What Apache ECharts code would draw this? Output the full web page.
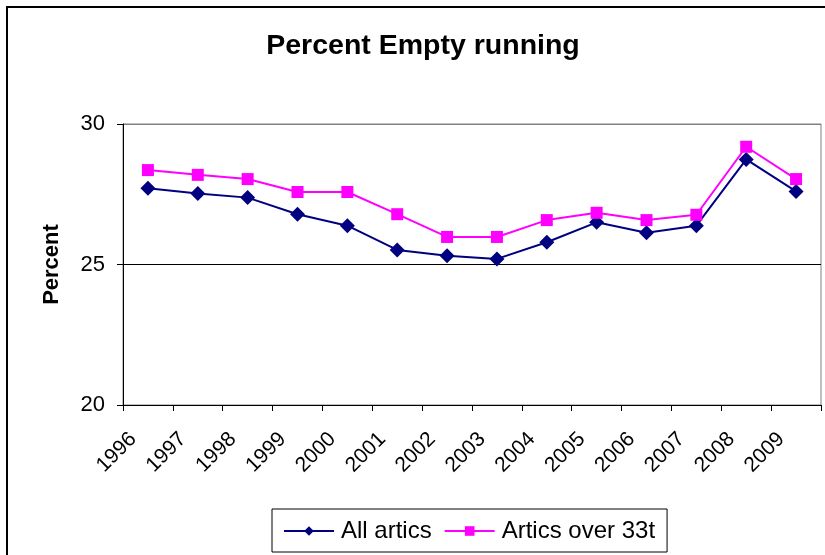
<!DOCTYPE html>
<html>
<head>
<meta charset="utf-8">
<script src="https://cdn.jsdelivr.net/npm/echarts@6/dist/echarts.min.js"></script>
<style>
html,body{margin:0;padding:0;background:#fff;}
#chart{width:825px;height:555px;}
</style>
</head>
<body>
<div id="chart"></div>
<script>
const years = ['1996','1997','1998','1999','2000','2001','2002','2003','2004','2005','2006','2007','2008','2009'];
const allArtics = [27.71,27.53,27.38,26.79,26.38,25.52,25.31,25.20,25.79,26.50,26.13,26.38,28.74,27.60];
const articsOver33t = [28.36,28.19,28.04,27.58,27.58,26.79,25.98,25.98,26.58,26.84,26.58,26.77,29.19,28.04];
const yTicks = [20,25,30];

const chart = echarts.init(document.getElementById('chart'), null, {renderer:'canvas'});
const font = 'Liberation Sans, Arial, sans-serif';
chart.setOption({
  animation:false,
  backgroundColor:'#fff',
  textStyle:{fontFamily:font},
  graphic:[{type:'rect',shape:{x:7,y:7,width:830,height:560},style:{fill:'none',stroke:'#000',lineWidth:2},z:-1}],
  title:{text:'Percent Empty running',left:418,textAlign:'center',top:27,
    textStyle:{fontFamily:font,fontSize:28.5,fontWeight:'bold',color:'#000'}},
  grid:{left:123,right:4,top:124,bottom:150,show:true,borderColor:'#808080',borderWidth:1,backgroundColor:'transparent'},
  legend:{top:509,left:272,itemWidth:50,itemHeight:12,itemGap:12,
    borderColor:'#000',borderWidth:1,padding:[10,12,9,11],
    textStyle:{fontFamily:font,fontSize:24,color:'#000',padding:[0,0,0,2]},
    data:['All artics','Artics over 33t']},
  xAxis:{type:'category',data:years,boundaryGap:true,
    axisLine:{lineStyle:{color:'#000',width:1}},
    axisTick:{show:true,length:6,lineStyle:{color:'#000'}},
    axisLabel:{rotate:45,interval:0,fontSize:21,color:'#000',fontFamily:font,margin:16,padding:[0,21,0,0]}},
  yAxis:{type:'value',min:yTicks[0],max:yTicks[yTicks.length-1],interval:5,
    name:'Percent',nameLocation:'middle',nameGap:60,
    nameTextStyle:{fontFamily:font,fontSize:22,fontWeight:'bold',color:'#000'},
    axisLine:{show:true,lineStyle:{color:'#000',width:1}},
    axisTick:{show:true,length:6,lineStyle:{color:'#000'}},
    axisLabel:{fontSize:22,color:'#000',fontFamily:font,margin:18},
    splitLine:{show:true,lineStyle:{color:['transparent','#000','#808080'],width:1}}},
  series:[
    {name:'All artics',type:'line',data:allArtics,symbol:'diamond',symbolSize:15,
      itemStyle:{color:'#000080'},lineStyle:{color:'#000080',width:2}},
    {name:'Artics over 33t',type:'line',data:articsOver33t,symbol:'rect',symbolSize:12,
      itemStyle:{color:'#FF00FF'},lineStyle:{color:'#FF00FF',width:2}}
  ]
});
</script>
</body>
</html>
